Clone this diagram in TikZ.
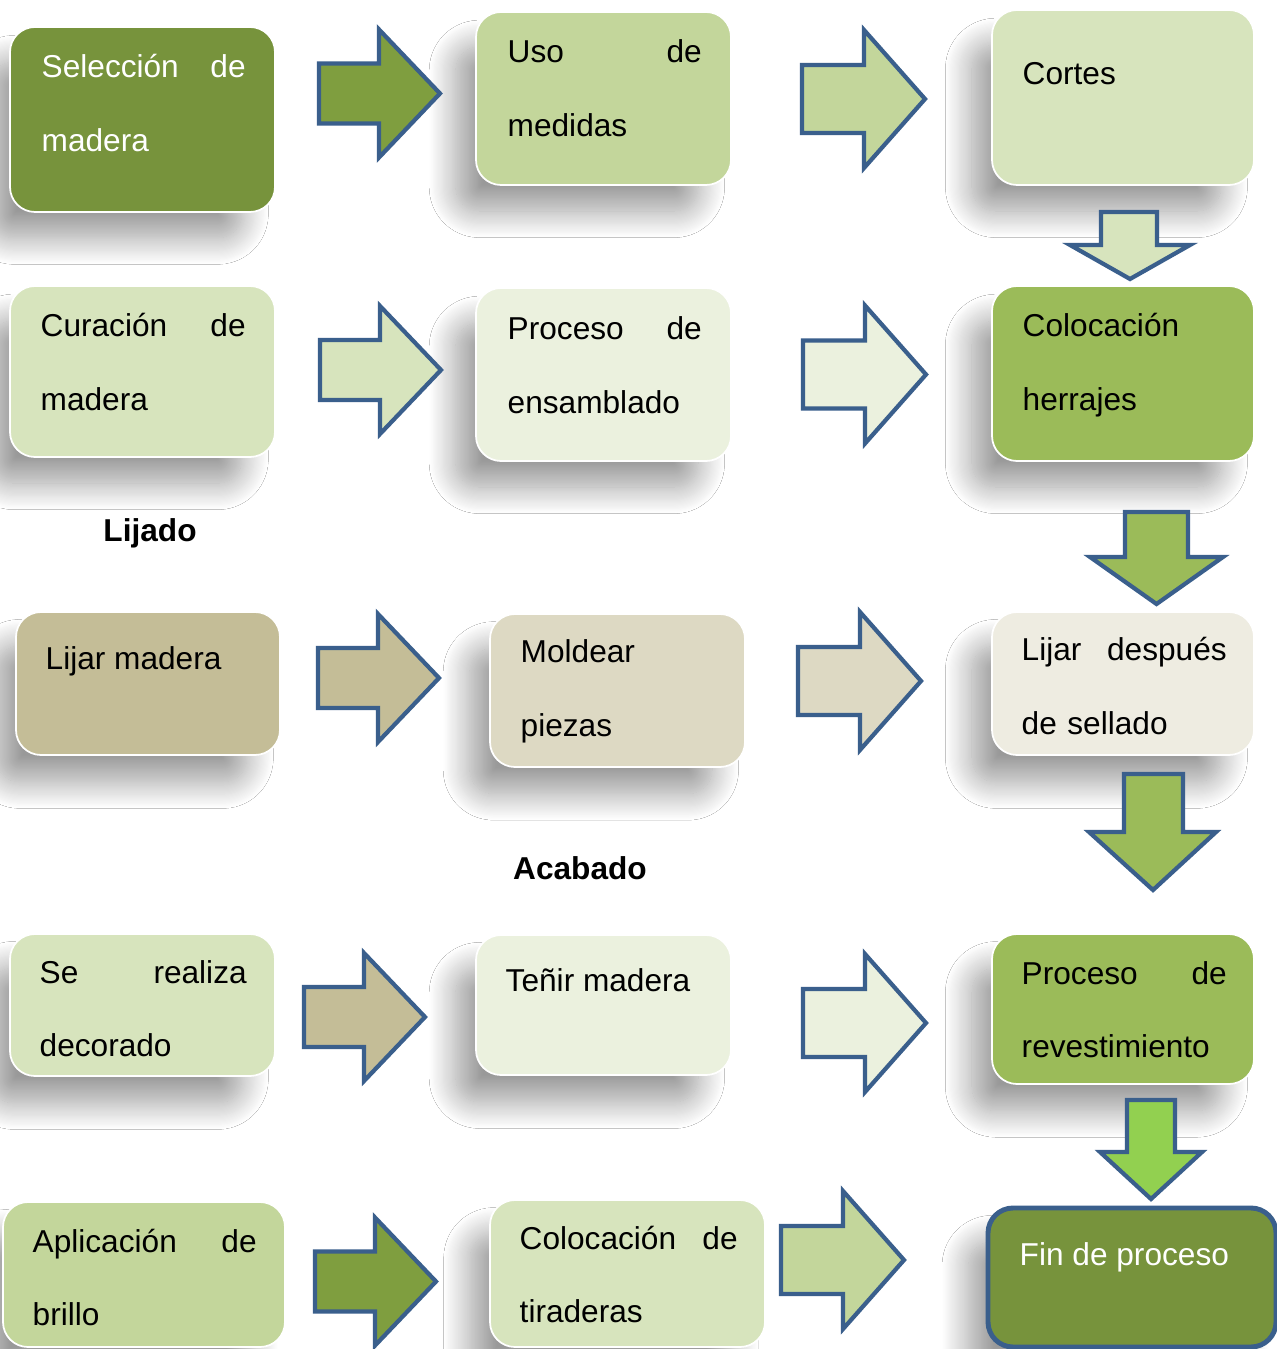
\documentclass[tikz,border=0pt]{standalone}
\usepackage{fontspec}
\setmainfont{Liberation Sans}
\usetikzlibrary{shadows.blur}

\definecolor{olivo}{HTML}{77933C}
\definecolor{olivoClaro}{HTML}{7F9E3F}
\definecolor{verde}{HTML}{9BBB59}
\definecolor{verdeMedio}{HTML}{C3D69B}
\definecolor{verdeClaro}{HTML}{D7E4BD}
\definecolor{verdePalido}{HTML}{EBF1DE}
\definecolor{verdeVivo}{HTML}{92D050}
\definecolor{tan}{HTML}{C4BD97}
\definecolor{tanClaro}{HTML}{DDD9C3}
\definecolor{crema}{HTML}{EEECE1}
\definecolor{azul}{HTML}{3A5F8C}

% right arrows: tail x, centre y, fill
\newcommand{\flechaChica}[3]{%
  \draw[flecha, fill=#3] (#1,#2-0.30) -- ++(0.60,0) -- ++(0,-0.34) -- ++(0.61,0.64)
    -- ++(-0.61,0.64) -- ++(0,-0.34) -- ++(-0.60,0) -- cycle;}
\newcommand{\flechaGrande}[3]{%
  \draw[flecha, fill=#3] (#1,#2-0.34) -- ++(0.62,0) -- ++(0,-0.35) -- ++(0.61,0.69)
    -- ++(-0.61,0.69) -- ++(0,-0.35) -- ++(-0.62,0) -- cycle;}

\begin{document}
\begin{tikzpicture}[x=1cm,y=-1cm,
  caja/.style={rounded corners=0.25cm, anchor=north west, inner sep=0, outer sep=0,
    draw=white, line width=0.5pt,
    blur shadow={shadow xshift=-0.28cm, shadow yshift=-0.32cm,
      shadow blur radius=0.28cm, shadow blur steps=24,
      shadow opacity=40, shadow scale=0.95}},
  texto/.style={anchor=base west, inner sep=0, align=left,
    font=\fontsize{9}{21}\selectfont},
  titulo/.style={anchor=base, inner sep=0, font=\fontsize{9}{21}\selectfont\bfseries},
  flecha/.style={draw=azul, line width=1.2pt, line join=miter}]

  \useasboundingbox (0,0) rectangle (12.76,13.49);
  \fill[white] (0,0) rectangle (12.76,13.49);

  % cajas
  \node[caja, fill=olivo, minimum width=2.65cm, minimum height=1.85cm] (seleccion) at (0.10,0.27) {};
  \node[caja, fill=verdeMedio, minimum width=2.55cm, minimum height=1.73cm] (uso) at (4.76,0.12) {};
  \node[caja, fill=verdeClaro, minimum width=2.62cm, minimum height=1.75cm] (cortes) at (9.92,0.10) {};

  \node[caja, fill=verdeClaro, minimum width=2.65cm, minimum height=1.71cm] (curacion) at (0.10,2.86) {};
  \node[caja, fill=verdePalido, minimum width=2.55cm, minimum height=1.73cm] (ensamblado) at (4.76,2.88) {};
  \node[caja, fill=verde, minimum width=2.62cm, minimum height=1.75cm] (herrajes) at (9.92,2.86) {};

  \node[caja, fill=tan, minimum width=2.64cm, minimum height=1.43cm] (lijar) at (0.16,6.12) {};
  \node[caja, fill=tanClaro, minimum width=2.55cm, minimum height=1.53cm] (moldear) at (4.90,6.14) {};
  \node[caja, fill=crema, minimum width=2.62cm, minimum height=1.43cm] (sellado) at (9.92,6.12) {};

  \node[caja, fill=verdeClaro, minimum width=2.65cm, minimum height=1.42cm] (decorado) at (0.10,9.34) {};
  \node[caja, fill=verdePalido, minimum width=2.55cm, minimum height=1.40cm] (tenir) at (4.76,9.35) {};
  \node[caja, fill=verde, minimum width=2.62cm, minimum height=1.50cm] (revestimiento) at (9.92,9.34) {};

  \node[caja, fill=verdeMedio, minimum width=2.82cm, minimum height=1.45cm] (brillo) at (0.03,12.02) {};
  \node[caja, fill=verdeClaro, minimum width=2.75cm, minimum height=1.47cm] (tiraderas) at (4.90,12.00) {};
  \node[caja, fill=olivo, draw=azul, line width=1.4pt, minimum width=2.88cm, minimum height=1.39cm] (fin) at (9.88,12.08) {};

  % textos
  \node[texto, text=white, text width=2.04cm] (seleccion-t) at (0.41,0.78) {Selección\hfill de\\madera};
  \node[texto, text width=1.94cm] (uso-t) at (5.07,0.63) {Uso\hfill de\\medidas};
  \node[texto] (cortes-t) at (10.22,0.85) {Cortes};

  \node[texto, text width=2.05cm] (curacion-t) at (0.40,3.37) {Curación\hfill de\\madera};
  \node[texto, text width=1.94cm] (ensamblado-t) at (5.07,3.40) {Proceso\hfill de\\ensamblado};
  \node[texto, text width=2.05cm] (herrajes-t) at (10.22,3.37) {Colocación\\herrajes};

  \node[titulo] (lijado) at (1.50,5.42) {Lijado};

  \node[texto] (lijar-t) at (0.45,6.69) {Lijar madera};
  \node[texto, text width=2.0cm] (moldear-t) at (5.20,6.63) {Moldear\\piezas};
  \node[texto, text width=2.05cm] (sellado-t) at (10.21,6.61) {Lijar\hfill después\\de sellado};

  \node[titulo] (acabado) at (5.80,8.79) {Acabado};

  \node[texto, text width=2.07cm] (decorado-t) at (0.39,9.83) {Se\hfill realiza\\decorado};
  \node[texto] (tenir-t) at (5.05,9.91) {Teñir madera};
  \node[texto, text width=2.05cm] (revestimiento-t) at (10.21,9.84) {Proceso\hfill de\\revestimiento};

  \node[texto, text width=2.24cm] (brillo-t) at (0.32,12.52) {Aplicación\hfill de\\brillo};
  \node[texto, text width=2.18cm] (tiraderas-t) at (5.19,12.49) {Colocación\hfill de\\tiraderas};
  \node[texto, text=white] (fin-t) at (10.19,12.65) {Fin de proceso};

  % flechas horizontales
  \flechaChica{3.19}{0.935}{olivoClaro}
  \flechaGrande{8.02}{0.99}{verdeMedio}
  \flechaChica{3.20}{3.70}{verdeClaro}
  \flechaGrande{8.03}{3.745}{verdePalido}
  \flechaChica{3.18}{6.78}{tan}
  \flechaGrande{7.98}{6.81}{tanClaro}
  \flechaChica{3.04}{10.17}{tan}
  \flechaGrande{8.03}{10.23}{verdePalido}
  \flechaChica{3.15}{12.815}{olivoClaro}
  \flechaGrande{7.81}{12.60}{verdeMedio}

  % flechas hacia abajo
  \draw[flecha, fill=verdeClaro] (11.01,2.12) -- (11.57,2.12) -- (11.57,2.45) -- (11.90,2.45)
    -- (11.30,2.79) -- (10.70,2.45) -- (11.01,2.45) -- cycle;
  \draw[flecha, fill=verde] (11.25,5.12) -- (11.88,5.12) -- (11.88,5.57) -- (12.23,5.57)
    -- (11.565,6.04) -- (10.90,5.57) -- (11.25,5.57) -- cycle;
  \draw[flecha, fill=verde] (11.24,7.74) -- (11.83,7.74) -- (11.83,8.32) -- (12.16,8.32)
    -- (11.53,8.90) -- (10.89,8.32) -- (11.24,8.32) -- cycle;
  \draw[flecha, fill=verdeVivo] (11.27,11.00) -- (11.75,11.00) -- (11.75,11.52) -- (12.02,11.52)
    -- (11.51,11.99) -- (11.00,11.52) -- (11.27,11.52) -- cycle;
\end{tikzpicture}
\end{document}
